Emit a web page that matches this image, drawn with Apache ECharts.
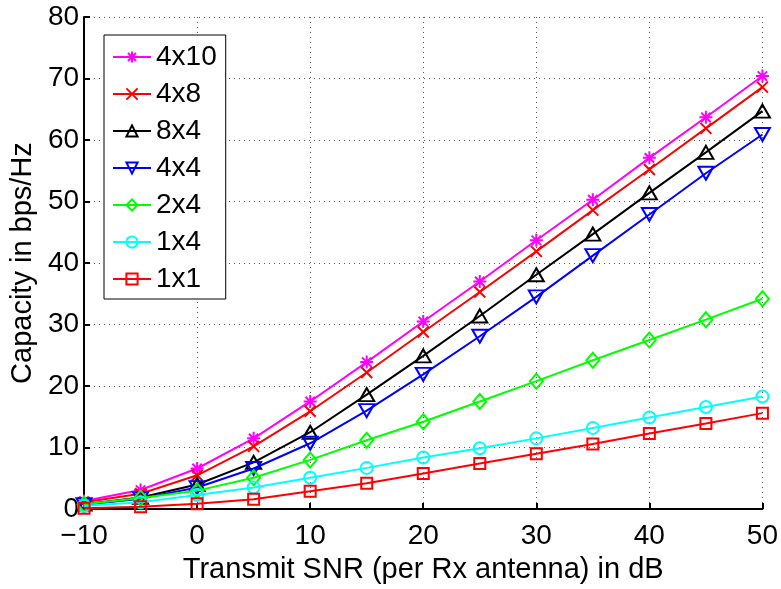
<!DOCTYPE html>
<html>
<head>
<meta charset="utf-8">
<script src="https://cdn.jsdelivr.net/npm/echarts@6/dist/echarts.min.js"></script>
<style>
  html, body { margin: 0; padding: 0; background: #fff; }
  #chart { width: 781px; height: 589px; }
</style>
</head>
<body>
<div id="chart"></div>
<script>
// Transmit SNR grid (dB)
const snrDb = [-10, -5, 0, 5, 10, 15, 20, 25, 30, 35, 40, 45, 50];

// Ergodic capacity (bps/Hz) for each antenna configuration
const cap4x10 = [1.3, 3.1, 6.6, 11.5, 17.5, 23.9, 30.5, 37.0, 43.7, 50.3, 57.1, 63.7, 70.4];
const cap4x8  = [1.1, 2.5, 5.5, 10.2, 15.9, 22.2, 28.8, 35.3, 41.9, 48.6, 55.2, 61.9, 68.6];
const cap8x4  = [0.8, 1.9, 4.0, 7.6, 12.5, 18.6, 24.9, 31.4, 38.1, 44.7, 51.4, 58.0, 64.7];
const cap4x4  = [0.7, 1.7, 3.5, 6.6, 10.7, 16.0, 21.9, 28.1, 34.5, 41.2, 47.9, 54.6, 60.9];
const cap2x4  = [0.8, 1.8, 3.0, 5.1, 8.0, 11.2, 14.2, 17.5, 20.8, 24.2, 27.5, 30.8, 34.2];
const cap1x4  = [0.5, 1.1, 2.3, 3.5, 5.1, 6.7, 8.4, 9.9, 11.5, 13.2, 14.9, 16.6, 18.3];
const cap1x1  = [0.14, 0.38, 0.86, 1.6, 2.9, 4.2, 5.8, 7.4, 9.0, 10.6, 12.3, 13.9, 15.6];

const seriesNames = ['4x10', '4x8', '8x4', '4x4', '2x4', '1x4', '1x1'];
const seriesValues = [cap4x10, cap4x8, cap8x4, cap4x4, cap2x4, cap1x4, cap1x1];

// Axis tick values
const xTicks = [-10, 0, 10, 20, 30, 40, 50];
const yTicks = [0, 10, 20, 30, 40, 50, 60, 70, 80];

// Line colours and outline marker shapes
const colors = ['#ff00ff', '#ff0000', '#000000', '#0000ff', '#00ff00', '#00ffff', '#ff0000'];
const markers = [
  'path://M0,-1L0,1M-1,0L1,0M-0.72,-0.72L0.72,0.72M-0.72,0.72L0.72,-0.72',
  'path://M-1,-1L1,1M-1,1L1,-1',
  'path://M0,-1L0.95,0.7L-0.95,0.7Z',
  'path://M0,1L0.95,-0.7L-0.95,-0.7Z',
  'path://M0,-1L0.85,0L0,1L-0.85,0Z',
  'path://M1,0A1,1,0,1,1,-1,0A1,1,0,1,1,1,0Z',
  'path://M-1,-1L1,-1L1,1L-1,1Z'
];
const markerSizes = [13, 11, [15, 13], [15, 13], [13, 15], 12, 11];

const FONT = '"Liberation Sans", Arial, Helvetica, sans-serif';

const chart = echarts.init(document.getElementById('chart'), null, { renderer: 'canvas' });

const series = seriesNames.map((name, i) => ({
  name: name,
  type: 'line',
  data: snrDb.map((x, k) => [x, seriesValues[i][k]]),
  symbol: markers[i],
  symbolSize: markerSizes[i],
  showAllSymbol: true,
  lineStyle: { color: colors[i], width: 2 },
  itemStyle: { color: 'rgba(0,0,0,0)', borderColor: colors[i], borderWidth: 2 },
  emphasis: { disabled: true },
  z: 2 + i
}));

const option = {
  animation: false,
  backgroundColor: '#ffffff',
  textStyle: { fontFamily: FONT },
  grid: { left: 81, right: 17, top: 17, bottom: 70, containLabel: false },
  xAxis: {
    type: 'value',
    min: xTicks[0],
    max: xTicks[xTicks.length - 1],
    interval: 10,
    name: 'Transmit SNR (per Rx antenna) in dB',
    nameLocation: 'middle',
    nameGap: 43,
    nameTextStyle: { color: '#000', fontSize: 29, fontFamily: FONT },
    axisLine: { onZero: false, lineStyle: { color: '#000', width: 2 } },
    axisTick: { inside: true, length: 6, lineStyle: { color: '#000', width: 2 } },
    axisLabel: {
      color: '#000', fontSize: 28, fontFamily: FONT, margin: 13,
      formatter: v => String(v).replace('-', '\u2212')
    },
    splitLine: { show: true, lineStyle: { color: '#555', width: 1, type: [1, 4] } }
  },
  yAxis: {
    type: 'value',
    min: yTicks[0],
    max: yTicks[yTicks.length - 1],
    interval: 10,
    name: 'Capacity in bps/Hz',
    nameLocation: 'middle',
    nameGap: 46,
    nameRotate: 90,
    nameTextStyle: { color: '#000', fontSize: 29, fontFamily: FONT },
    axisLine: { show: true, onZero: false, lineStyle: { color: '#000', width: 2 } },
    axisTick: { show: true, inside: true, length: 6, lineStyle: { color: '#000', width: 2 } },
    axisLabel: { color: '#000', fontSize: 28, fontFamily: FONT, margin: 5 },
    splitLine: { show: true, lineStyle: { color: '#555', width: 1, type: [1, 4] } }
  },
  legend: {
    show: true,
    orient: 'vertical',
    left: 104,
    top: 35,
    padding: [8, 9, 6, 8],
    itemGap: 9,
    itemWidth: 38,
    itemHeight: 14,
    backgroundColor: '#ffffff',
    borderColor: '#000',
    borderWidth: 1,
    borderRadius: 0,
    textStyle: { color: '#000', fontSize: 28, fontFamily: FONT, lineHeight: 24 },
    data: seriesNames
  },
  series: series
};

chart.setOption(option);
</script>
</body>
</html>
